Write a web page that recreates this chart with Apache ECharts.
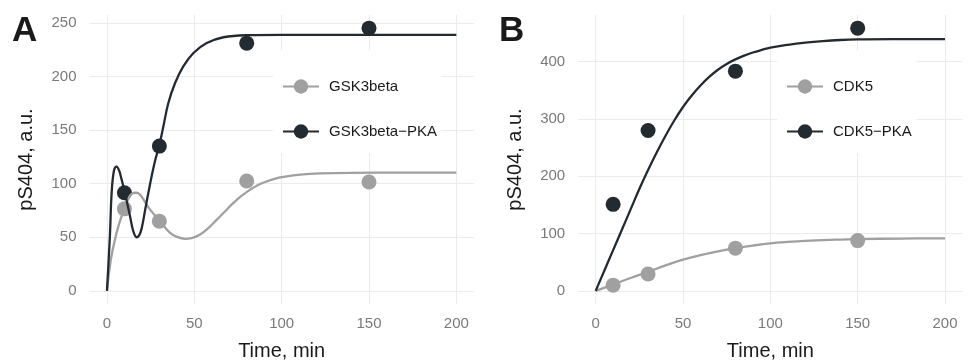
<!DOCTYPE html>
<html>
<head>
<meta charset="utf-8">
<script src="https://cdn.jsdelivr.net/npm/echarts@6/dist/echarts.min.js"></script>
<style>
html, body { margin: 0; background: #fff; }
#main { width: 968px; height: 360px; }
</style>
</head>
<body>
<div id="main"></div>
<script>
// measured time points (min)
const timePoints = [10, 30, 80, 150];

// panel A: pS404 measurements
const gskValues = [76.5, 65, 102.5, 101.5];
const gskPkaValues = [91.5, 135, 231, 245];

// panel A: fitted curves [time, value]
const gskFit = [
    [0, 0], [2.2, 29], [4.6, 48], [6.5, 60], [8.4, 69.5], [10, 76.5], [12, 85], [14.1, 90.5],
    [17, 91.5], [18.9, 89.7], [20.8, 85.5], [24.6, 76], [30, 65.5], [36.1, 54], [40, 50.3],
    [44.7, 48.5], [49, 49.5], [53.3, 52.5], [58, 58.5], [62.9, 66.4], [67.5, 74], [72.4, 82],
    [77, 88.5], [82, 94.4], [86.5, 98.8], [91.5, 102.1], [96, 104.5], [101, 106.2],
    [110.6, 108.4], [122, 109.6], [140, 110.1], [170, 110.2], [200, 110.2]
];
const gskPkaFit = [
    [0, 0], [1, 30], [1.7, 52], [2.7, 92], [4, 112], [5.5, 115.8], [7, 112], [7.8, 107.5],
    [10.3, 91.3], [13.2, 69.5], [15.1, 55.5], [17, 50], [18.5, 52], [19.9, 58.5], [21.8, 75],
    [24.6, 99], [27.5, 121], [30, 136], [32.3, 153.4], [35.1, 175], [39, 193.8], [43.7, 209.3],
    [49.5, 221.8], [57.1, 231.1], [66.7, 236.5], [80, 238.4], [100, 238.7], [150, 238.7], [200, 238.7]
];

// panel B: pS404 measurements
const cdkValues = [10, 29.5, 74.5, 87.6];
const cdkPkaValues = [150.8, 279.5, 383, 458];

// panel B: fitted curves [time, value]
const cdkFit = [
    [0, 0], [10, 11], [20, 22.5], [30, 33], [40, 44.5], [50, 54.5], [60, 62.5], [70, 69],
    [80, 74.5], [90, 79], [100, 82.8], [110, 85.3], [120, 87.2], [135, 89],
    [150, 90.3], [175, 91.2], [200, 91.6]
];
const cdkPkaFit = [
    [0, 0], [5, 35.5], [10, 71], [15, 106.5], [20, 142], [25, 177.5], [30, 210.5], [35, 241.5],
    [40, 270.5], [45, 297], [50, 320.5], [55, 340.5], [60, 358], [65, 373], [70, 385.5],
    [75, 395.5], [80, 403.5], [85, 410], [90, 415.5], [95, 420], [100, 424],
    [110, 429], [120, 432.8], [130, 435.5], [140, 437.3], [150, 438.3], [170, 438.8], [200, 438.9]
];

// tick labels
const xTicks = [0, 50, 100, 150, 200];
const yTicksA = [0, 50, 100, 150, 200, 250];
const yTicksB = [0, 100, 200, 300, 400];

const grey = '#a0a0a0';
const dark = '#232b30';
const font = 'Liberation Sans';

function pairs(xs, ys) {
    return xs.map((x, i) => [x, ys[i]]);
}

function xAxis(gridIndex) {
    return {
        type: 'value', gridIndex: gridIndex, min: -10, max: 210,
        name: 'Time, min', nameLocation: 'middle', nameGap: 37,
        nameTextStyle: { fontFamily: font, fontSize: 20, color: '#1a1a1a' },
        axisLine: { show: false },
        axisTick: { show: false, customValues: xTicks },
        axisLabel: { customValues: xTicks, margin: 12, fontFamily: font, fontSize: 15, color: '#7a7a7a' },
        splitLine: { show: true, lineStyle: { color: '#ebebeb', width: 1 } }
    };
}

function yAxis(gridIndex, min, max, ticks) {
    return {
        type: 'value', gridIndex: gridIndex, min: min, max: max,
        name: 'pS404, a.u.', nameLocation: 'middle', nameGap: 53,
        nameTextStyle: { fontFamily: font, fontSize: 20, color: '#1a1a1a' },
        axisLine: { show: false },
        axisTick: { show: false, customValues: ticks },
        axisLabel: { customValues: ticks, margin: 13, fontFamily: font, fontSize: 15, color: '#7a7a7a' },
        splitLine: { show: true, lineStyle: { color: '#ebebeb', width: 1 } }
    };
}

function fitLine(name, idx, data, color) {
    return {
        name: name, type: 'line', xAxisIndex: idx, yAxisIndex: idx,
        data: data, smooth: 0.4, symbol: 'circle', showSymbol: false,
        lineStyle: { color: color, width: 2.3 }, itemStyle: { color: color },
        silent: true, animation: false
    };
}

function dots(name, idx, data, color) {
    return {
        name: name, type: 'scatter', xAxisIndex: idx, yAxisIndex: idx,
        data: data, symbol: 'circle', symbolSize: 15,
        itemStyle: { color: color, opacity: 1 },
        silent: true, animation: false
    };
}

function legend(names, left, padRight) {
    return {
        orient: 'vertical', left: left, top: 50,
        backgroundColor: '#fff',
        padding: [29, padRight, 14, 9],
        itemWidth: 36, itemHeight: 18, itemGap: 30,
        selectedMode: false,
        textStyle: { fontFamily: font, fontSize: 15, color: '#1a1a1a', padding: [0, 0, 0, 5] },
        data: names
    };
}

const myChart = echarts.init(document.getElementById('main'));

myChart.setOption({
    backgroundColor: '#fff',
    animation: false,
    grid: [
        { left: 89.5, right: 494.2, top: 15, bottom: 56, outerBoundsMode: 'none' },
        { left: 578.2, right: 5.5, top: 15, bottom: 56, outerBoundsMode: 'none' }
    ],
    xAxis: [xAxis(0), xAxis(1)],
    yAxis: [yAxis(0, -12.25, 257.25, yTicksA), yAxis(1, -22.9, 480.9, yTicksB)],
    legend: [
        legend(['GSK3beta', 'GSK3beta−PKA'], 273, 4),
        legend(['CDK5', 'CDK5−PKA'], 777, 5)
    ],
    graphic: [
        { type: 'text', left: 12, top: 14, style: { text: 'A', font: 'bold 35px "Liberation Sans"', fill: '#1a1a1a' } },
        { type: 'text', left: 499, top: 14, style: { text: 'B', font: 'bold 35px "Liberation Sans"', fill: '#1a1a1a' } }
    ],
    series: [
        fitLine('GSK3beta', 0, gskFit, grey),
        fitLine('GSK3beta−PKA', 0, gskPkaFit, dark),
        dots('GSK3beta', 0, pairs(timePoints, gskValues), grey),
        dots('GSK3beta−PKA', 0, pairs(timePoints, gskPkaValues), dark),
        fitLine('CDK5', 1, cdkFit, grey),
        fitLine('CDK5−PKA', 1, cdkPkaFit, dark),
        dots('CDK5', 1, pairs(timePoints, cdkValues), grey),
        dots('CDK5−PKA', 1, pairs(timePoints, cdkPkaValues), dark)
    ]
});

window.addEventListener('resize', function () {
    myChart.resize();
});
</script>
</body>
</html>
